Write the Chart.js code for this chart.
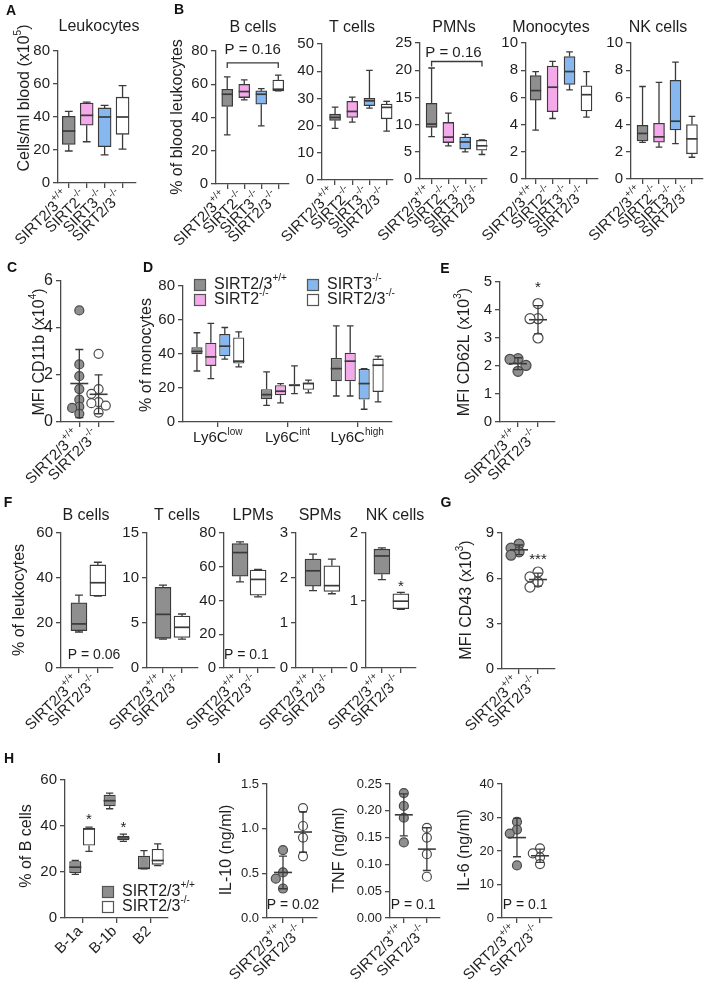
<!DOCTYPE html>
<html>
<head>
<meta charset="utf-8">
<title>SIRT2/3 immune cells</title>
<script src="https://cdn.jsdelivr.net/npm/chart.js@4.4.1/dist/chart.umd.min.js"></script>
<style>
  body { margin: 0; background: #fff; }
  #fig { position: relative; width: 708px; height: 988px; overflow: hidden; background: #fff; }
  #fig canvas { position: absolute; left: 0; top: 0; }
  .letter { position: absolute; transform: translate(-50%, -50%); font: bold 14px 'Liberation Sans', Arial, sans-serif; color: #111; }
</style>
</head>
<body>
<div id="fig"></div>
<script>
// categories
const genos4 = ['SIRT2/3^{+/+}', 'SIRT2^{-/-}', 'SIRT3^{-/-}', 'SIRT2/3^{-/-}'];
const genos2 = ['SIRT2/3^{+/+}', 'SIRT2/3^{-/-}'];
const ly6c = ['Ly6C^{low}', 'Ly6C^{int}', 'Ly6C^{high}'];
const bSubsets = ['B-1a', 'B-1b', 'B2'];
const colors4 = ['#8f8f8f', '#f4a9ea', '#86b7ef', '#ffffff'];
const colors2 = ['#8f8f8f', '#ffffff'];

// box plots, each entry is [min, q1, median, q3, max]
// A - blood leukocytes
const leukocytes = [[19.4, 23.4, 31.5, 40.4, 43.4], [25, 35, 41, 48.5, 49], [17, 22, 40, 45.5, 47], [20.5, 29.5, 40, 52, 59]];
// B - blood subsets
const bloodB = [[29.6, 46.6, 54, 57, 64.4], [50.6, 52, 55.6, 60, 62.6], [35, 48, 54, 56, 57.4], [56, 56, 57, 62.5, 65.5]];
const bloodT = [[19, 21.9, 23, 24.2, 26.8], [21.3, 23, 25.2, 28.9, 30.5], [26.4, 27.3, 29.1, 30, 40.3], [18, 22.5, 26.7, 27.9, 28.9]];
const bloodPMN = [[7.8, 9.5, 10.1, 13.9, 20.4], [6.1, 6.7, 7.7, 10.4, 12.1], [5.0, 5.5, 6.8, 7.7, 8.2], [4.5, 5.3, 6.1, 7.1, 7.2]];
const bloodMono = [[3.6, 5.8, 6.5, 7.6, 7.9], [4.45, 4.95, 6.75, 8.3, 8.65], [6.55, 6.95, 7.9, 9.0, 9.35], [4.55, 5.0, 6.2, 6.85, 7.9]];
const bloodNK = [[2.7, 2.8, 3.35, 3.95, 6.8], [2.35, 2.7, 3.1, 4.1, 7.1], [2.6, 3.6, 4.25, 7.25, 8.6], [1.6, 1.85, 2.95, 4.0, 4.6]];
// D - monocyte subsets (low, int, high) per genotype
const monoWT = [[30, 39.8, 41.5, 44, 52.5], [9.8, 13.4, 16.1, 19.3, 29.5], [15.3, 24, 31.4, 37.7, 56.6]];
const monoS2 = [[25.5, 33, 38.3, 46.6, 58], [11.2, 15.7, 18.1, 21.6, 22.6], [15.3, 24, 35.8, 40.7, 56.6]];
const monoS3 = [[37, 38.7, 44.6, 51.7, 55.6], [16.7, 21, 21.6, 22.2, 33], [7.5, 13.2, 22.6, 31.2, 31.4]];
const monoDKO = [[32.4, 34.4, 35.8, 49.7, 53], [17.1, 19, 22.6, 23.2, 24.6], [11.8, 17.7, 33.4, 37.3, 38.7]];
// F - peritoneal subsets
const periB = [[16, 16.6, 19.6, 29, 32.4], [32, 32, 37.9, 45.8, 47]];
const periT = [[3.2, 3.3, 5.96, 8.96, 9.2], [3.2, 3.4, 4.52, 5.78, 6.0]];
const periLPM = [[51, 54.4, 68.4, 73.7, 74.7], [42.2, 43.2, 52.5, 58, 58.4]];
const periSPM = [[1.72, 1.82, 2.16, 2.42, 2.53], [1.65, 1.7, 1.83, 2.27, 2.42]];
const periNK = [[1.31, 1.39, 1.66, 1.76, 1.78], [0.87, 0.88, 0.99, 1.10, 1.12]];
// H - B cell subsets per genotype
const bSubWT = [[19.0, 19.6, 22.1, 24.7, 25], [47.5, 48.6, 51, 53.6, 54.3], [21.4, 21.4, 21.6, 27.1, 29.3]];
const bSubDKO = [[29, 31.5, 38.7, 39.2, 39.5], [33.3, 33.8, 34.8, 35.8, 36.5], [22.8, 23.2, 25, 30, 32.2]];

// dot plots, single animals
const cd11bWT = [4.75, 2.45, 1.95, 1.4, 0.95, 0.65, 0.6, 0.35];
const cd11bDKO = [2.9, 1.4, 1.2, 0.85, 0.8, 0.7, 0.4];
const cd62lWT = [2.26, 2.24, 2.02, 1.81];
const cd62lDKO = [4.23, 3.69, 3.69, 3.0];
const cd43WT = [8.27, 8.0, 7.75, 7.53];
const cd43DKO = [6.42, 6.09, 5.75, 5.42];
const il10WT = [0.76, 0.51, 0.44, 0.33];
const il10DKO = [1.23, 1.03, 0.90, 0.69];
const tnfWT = [0.233, 0.209, 0.187, 0.141];
const tnfDKO = [0.168, 0.150, 0.119, 0.077];
const il6WT = [28.7, 26.4, 25.2, 15.7];
const il6DKO = [20.8, 19.3, 18.1, 16.1];

const FONT = "'Liberation Sans', Arial, Helvetica, sans-serif";
const INK = '#1e1e1e';
const AXIS = '#4a4a4a';
const LINE = '#3a3a3a';
const YW = 40; // room kept for the y tick labels
const fig = document.getElementById('fig');

// text with ^{...} superscripts
function rich(ctx, str, x, y, size, align, rot) {
  const parts = [];
  const re = /\^\{([^}]*)\}/g;
  let last = 0, m;
  while ((m = re.exec(str))) {
    if (m.index > last) parts.push({ t: str.slice(last, m.index), sup: false });
    parts.push({ t: m[1], sup: true });
    last = re.lastIndex;
  }
  if (last < str.length) parts.push({ t: str.slice(last), sup: false });
  ctx.save();
  ctx.translate(x, y);
  if (rot) ctx.rotate(rot * Math.PI / 180);
  ctx.fillStyle = INK;
  ctx.textBaseline = 'middle';
  ctx.textAlign = 'left';
  const font = sup => (sup ? Math.round(size * 0.64) : size) + 'px ' + FONT;
  let w = 0;
  parts.forEach(p => { ctx.font = font(p.sup); p.w = ctx.measureText(p.t).width; w += p.w; });
  let cx = align === 'right' ? -w : align === 'center' ? -w / 2 : 0;
  parts.forEach(p => {
    ctx.font = font(p.sup);
    ctx.fillText(p.t, cx, p.sup ? -size * 0.4 : 0);
    cx += p.w;
  });
  ctx.restore();
}

function deco(o) {
  return {
    id: 'deco',
    afterDatasetsDraw(chart) {
      const ctx = chart.ctx, xs = chart.scales.x, ys = chart.scales.y;
      const py = v => ys.getPixelForValue(v);
      ctx.save();
      ctx.strokeStyle = LINE;
      chart.data.datasets.forEach((ds, di) => {
        const meta = chart.getDatasetMeta(di);
        if (ds.box) {
          meta.data.forEach((el, i) => {
            const b = ds.box[i], x = el.x, w = el.width, cap = Math.min(8, w * 0.6);
            ctx.lineWidth = 1.3;
            ctx.beginPath();
            ctx.moveTo(x, py(b[3])); ctx.lineTo(x, py(b[4]));
            ctx.moveTo(x - cap / 2, py(b[4])); ctx.lineTo(x + cap / 2, py(b[4]));
            ctx.moveTo(x, py(b[1])); ctx.lineTo(x, py(b[0]));
            ctx.moveTo(x - cap / 2, py(b[0])); ctx.lineTo(x + cap / 2, py(b[0]));
            ctx.stroke();
            ctx.lineWidth = 1.7;
            ctx.beginPath();
            ctx.moveTo(x - w / 2, py(b[2])); ctx.lineTo(x + w / 2, py(b[2]));
            ctx.stroke();
          });
        }
        if (ds.vals) {
          // mean +/- SD
          const n = ds.vals.length;
          const mean = ds.vals.reduce((a, v) => a + v, 0) / n;
          const sd = Math.sqrt(ds.vals.reduce((a, v) => a + (v - mean) ** 2, 0) / (n - 1));
          const x = xs.getPixelForValue(ds.gi);
          ctx.lineWidth = 1.3;
          ctx.beginPath();
          ctx.moveTo(x, py(mean + sd)); ctx.lineTo(x, py(mean - sd));
          ctx.moveTo(x - 4, py(mean + sd)); ctx.lineTo(x + 4, py(mean + sd));
          ctx.moveTo(x - 4, py(mean - sd)); ctx.lineTo(x + 4, py(mean - sd));
          ctx.stroke();
          ctx.lineWidth = 1.6;
          ctx.beginPath();
          ctx.moveTo(x - 9, py(mean)); ctx.lineTo(x + 9, py(mean));
          ctx.stroke();
        }
      });
      ctx.restore();
    },
    afterDraw(chart) {
      const ctx = chart.ctx, xs = chart.scales.x, ys = chart.scales.y;
      if (o.title) rich(ctx, o.title, o.titleX, o.titleY, 16, 'center');
      if (o.yTitle) rich(ctx, o.yTitle, o.yTitleX, o.yTitleY, 16, 'center', -90);
      o.cats.forEach((c, i) => {
        const x = xs.getPixelForValue(i);
        if (o.flat) rich(ctx, c, x, xs.top + 16, 15, 'center');
        else rich(ctx, c, x - 2, xs.top + 11, 15, 'right', -45);
      });
      (o.notes || []).forEach(n => {
        const x = n.ds != null ? chart.getDatasetMeta(n.ds).data[n.i].x : xs.getPixelForValue(n.x);
        rich(ctx, n.t, x, ys.getPixelForValue(n.y), n.size || 15, 'center');
      });
      (o.brackets || []).forEach(b => {
        const x0 = xs.getPixelForValue(b.x0), x1 = xs.getPixelForValue(b.x1), y = ys.getPixelForValue(b.y);
        ctx.save();
        ctx.strokeStyle = LINE; ctx.lineWidth = 1.3;
        ctx.beginPath();
        ctx.moveTo(x0, y + 5); ctx.lineTo(x0, y); ctx.lineTo(x1, y); ctx.lineTo(x1, y + 5);
        ctx.stroke();
        ctx.restore();
      });
      if (o.legend) {
        const rows = o.legend.rows;
        o.series.forEach((s, k) => {
          const cx = o.legend.cols[Math.floor(k / rows.length)], cy = rows[k % rows.length];
          ctx.save();
          ctx.fillStyle = o.colors[k]; ctx.strokeStyle = '#555'; ctx.lineWidth = 1.2;
          ctx.fillRect(cx - 5.5, cy - 5.5, 11, 11);
          ctx.strokeRect(cx - 5.5, cy - 5.5, 11, 11);
          ctx.restore();
          rich(ctx, s, cx + 14, cy, 16, 'left');
        });
      }
    }
  };
}

function dotSet(vals, gi, fill, o) {
  // spread overlapping dots sideways, some overlap allowed
  const pxY = (o.bottom - o.top) / (o.yMax - o.yMin);
  const pxX = (o.right - o.ax) / (o.xMax - o.xMin);
  const r = o.r, placed = [];
  const data = vals.map(v => {
    const y = v * pxY;
    let dx = 0;
    for (const c of [0, -1, 1, -2, 2]) {
      const x = c * r * 1.6;
      if (placed.every(p => Math.hypot(p.x - x, p.y - y) >= r * 1.4)) { dx = x; break; }
    }
    placed.push({ x: dx, y });
    return { x: gi + dx / pxX, y: v };
  });
  return {
    data, vals, gi, pointRadius: r, pointHoverRadius: r,
    pointBackgroundColor: fill, pointBorderColor: '#4a4a4a', pointBorderWidth: 1.2, showLine: false
  };
}

function panel(o) {
  const cv = document.createElement('canvas');
  cv.width = 708; cv.height = 988;
  fig.appendChild(cv);

  let datasets;
  if (o.dots) {
    datasets = o.dots.map((vals, gi) => dotSet(vals, gi, o.colors[gi], o));
  } else if (o.groups) {
    datasets = o.groups.map((g, k) => ({
      label: o.series[k], box: g, data: g.map(b => [b[1], b[3]]),
      backgroundColor: o.colors[k], borderColor: LINE, borderWidth: 1.3, borderSkipped: false,
      categoryPercentage: 0.8, barPercentage: o.barPct
    }));
  } else {
    datasets = [{
      box: o.boxes, data: o.boxes.map((b, i) => ({ x: i, y: [b[1], b[3]] })),
      backgroundColor: o.colors, borderColor: LINE, borderWidth: 1.3, borderSkipped: false,
      barThickness: o.barW
    }];
  }

  const xScale = {
    ticks: { display: false },
    grid: { drawOnChartArea: false, tickLength: 5, color: AXIS, lineWidth: 1.3, offset: false },
    border: { color: AXIS, width: 1.3 },
    afterFit: s => { s.height = 10; }
  };
  if (o.groups) {
    Object.assign(xScale, { type: 'category', offset: true });
  } else {
    Object.assign(xScale, {
      type: 'linear', offset: false, min: o.xMin, max: o.xMax,
      afterBuildTicks: s => { s.ticks = o.cats.map((c, i) => ({ value: i })); }
    });
  }

  new Chart(cv, {
    type: o.dots ? 'scatter' : 'bar',
    data: { labels: o.groups ? o.cats : [], datasets },
    options: {
      responsive: false,
      animation: false,
      devicePixelRatio: 1,
      layout: { padding: { left: o.ax - YW, top: o.top, right: 708 - o.right, bottom: 988 - o.bottom - 10 } },
      plugins: { legend: { display: false }, tooltip: { enabled: false } },
      scales: {
        x: xScale,
        y: {
          type: 'linear', min: o.yMin, max: o.yMax,
          ticks: {
            stepSize: o.yStep, color: INK, padding: 3, autoSkip: false,
            font: { family: FONT, size: o.tickSize || 15 },
            callback: v => o.yDec ? v.toFixed(o.yDec) : v
          },
          grid: { drawOnChartArea: false, tickLength: 5, color: AXIS, lineWidth: 1.3 },
          border: { color: AXIS, width: 1.3 },
          afterFit: s => { s.width = YW; }
        }
      }
    },
    plugins: [deco(o)]
  });
}

// A
panel({ ax: 58, top: 51, right: 136, bottom: 183, yMin: 0, yMax: 80, yStep: 20, xMin: -0.6, xMax: 3.75,
  cats: genos4, boxes: leukocytes, colors: colors4, barW: 13,
  title: 'Leukocytes', titleX: 99, titleY: 27, yTitle: 'Cells/ml blood (x10^{5})', yTitleX: 25, yTitleY: 98 });

// B
panel({ ax: 216, top: 51, right: 289, bottom: 184, yMin: 0, yMax: 80, yStep: 20, xMin: -0.66, xMax: 3.63,
  cats: genos4, boxes: bloodB, colors: colors4, barW: 11,
  title: 'B cells', titleX: 253, titleY: 28, yTitle: '% of blood leukocytes', yTitleX: 178, yTitleY: 117,
  notes: [{ t: 'P = 0.16', x: 1.5, y: 80.6 }], brackets: [{ x0: 0, x1: 3, y: 72.8 }] });
panel({ ax: 322, top: 44, right: 393, bottom: 180, yMin: 0, yMax: 50, yStep: 10, xMin: -0.76, xMax: 3.37,
  cats: genos4, boxes: bloodT, colors: colors4, barW: 11, title: 'T cells', titleX: 352, titleY: 28 });
panel({ ax: 420, top: 43, right: 487, bottom: 179, yMin: 0, yMax: 25, yStep: 5, xMin: -0.69, xMax: 3.3,
  cats: genos4, boxes: bloodPMN, colors: colors4, barW: 11, title: 'PMNs', titleX: 454, titleY: 28,
  notes: [{ t: 'P = 0.16', x: 1.3, y: 23.1 }], brackets: [{ x0: 0, x1: 3, y: 21.6 }] });
panel({ ax: 526, top: 43, right: 598, bottom: 179, yMin: 0, yMax: 10, yStep: 2, xMin: -0.57, xMax: 3.68,
  cats: genos4, boxes: bloodMono, colors: colors4, barW: 11, title: 'Monocytes', titleX: 551, titleY: 28 });
panel({ ax: 631, top: 43, right: 703, bottom: 179, yMin: 0, yMax: 10, yStep: 2, xMin: -0.7, xMax: 3.67,
  cats: genos4, boxes: bloodNK, colors: colors4, barW: 11, title: 'NK cells', titleX: 658, titleY: 28 });

// C
panel({ ax: 61, top: 281, right: 114, bottom: 422, yMin: 0, yMax: 6, yStep: 2, xMin: -0.95, xMax: 1.8,
  cats: genos2, dots: [cd11bWT, cd11bDKO], colors: colors2, r: 4.5, tickSize: 16,
  yTitle: 'MFI CD11b (x10^{4})', yTitleX: 40, yTitleY: 352 });

// D
panel({ ax: 183, top: 286, right: 392, bottom: 422, yMin: 0, yMax: 80, yStep: 20,
  cats: ly6c, flat: true, groups: [monoWT, monoS2, monoS3, monoDKO], series: genos4, colors: colors4, barPct: 0.8,
  yTitle: '% of monocytes', yTitleX: 147, yTitleY: 355, legend: { cols: [200, 313], rows: [285, 300] } });

// E
panel({ ax: 500, top: 282, right: 555, bottom: 422, yMin: 0, yMax: 5, yStep: 1, xMin: -0.9, xMax: 1.85,
  cats: genos2, dots: [cd62lWT, cd62lDKO], colors: colors2, r: 5,
  yTitle: 'MFI CD62L (x10^{3})', yTitleX: 465, yTitleY: 352, notes: [{ t: '*', x: 1, y: 4.79 }] });

// F
panel({ ax: 61, top: 533, right: 113, bottom: 668, yMin: 0, yMax: 60, yStep: 20, xMin: -0.95, xMax: 1.8,
  cats: genos2, boxes: periB, colors: colors2, barW: 16, title: 'B cells', titleX: 86, titleY: 516,
  yTitle: '% of leukocytes', yTitleX: 20, yTitleY: 600, notes: [{ t: 'P = 0.06', x: 0.8, y: 5.8, size: 14 }] });
panel({ ax: 147, top: 533, right: 198, bottom: 668, yMin: 0, yMax: 15, yStep: 5, xMin: -0.84, xMax: 1.84,
  cats: genos2, boxes: periT, colors: colors2, barW: 16, title: 'T cells', titleX: 177, titleY: 516 });
panel({ ax: 224, top: 533, right: 275, bottom: 668, yMin: 0, yMax: 80, yStep: 20, xMin: -0.89, xMax: 1.94,
  cats: genos2, boxes: periLPM, colors: colors2, barW: 16, title: 'LPMs', titleX: 253, titleY: 516,
  notes: [{ t: 'P = 0.1', x: 0.35, y: 7.7, size: 14 }] });
panel({ ax: 296, top: 533, right: 347, bottom: 668, yMin: 0, yMax: 3, yStep: 1, xMin: -0.9, xMax: 1.8,
  cats: genos2, boxes: periSPM, colors: colors2, barW: 16, title: 'SPMs', titleX: 320, titleY: 516 });
panel({ ax: 366, top: 533, right: 416, bottom: 668, yMin: 0, yMax: 2, yStep: 1, xMin: -0.84, xMax: 1.8,
  cats: genos2, boxes: periNK, colors: colors2, barW: 16, title: 'NK cells', titleX: 395, titleY: 516,
  notes: [{ t: '*', x: 1, y: 1.2 }] });

// G
panel({ ax: 502, top: 533, right: 555, bottom: 669, yMin: 0, yMax: 9, yStep: 3, xMin: -0.9, xMax: 1.9,
  cats: genos2, dots: [cd43WT, cd43DKO], colors: colors2, r: 5,
  yTitle: 'MFI CD43 (x10^{3})', yTitleX: 467, yTitleY: 600, notes: [{ t: '***', x: 1, y: 7.2 }] });

// H
panel({ ax: 65, top: 780, right: 168, bottom: 918, yMin: 0, yMax: 60, yStep: 20,
  cats: bSubsets, groups: [bSubWT, bSubDKO], series: genos2, colors: colors2, barPct: 0.88,
  yTitle: '% of B cells', yTitleX: 27, yTitleY: 846, legend: { cols: [108], rows: [892, 907] },
  notes: [{ t: '*', ds: 1, i: 0, y: 42.6 }, { t: '*', ds: 1, i: 1, y: 39.1 }] });

// I
panel({ ax: 267, top: 784, right: 317, bottom: 918, yMin: 0, yMax: 1.5, yStep: 0.5, yDec: 1, tickSize: 13,
  xMin: -0.8, xMax: 1.7, cats: genos2, dots: [il10WT, il10DKO], colors: colors2, r: 4.5,
  yTitle: 'IL-10 (ng/ml)', yTitleX: 227, yTitleY: 850, notes: [{ t: 'P = 0.02', x: 0.5, y: 0.146, size: 14 }] });
panel({ ax: 390, top: 784, right: 440, bottom: 918, yMin: 0, yMax: 0.25, yStep: 0.05, yDec: 2, tickSize: 13,
  xMin: -0.6, xMax: 1.57, cats: genos2, dots: [tnfWT, tnfDKO], colors: colors2, r: 4.5,
  yTitle: 'TNF (ng/ml)', yTitleX: 340, yTitleY: 850, notes: [{ t: 'P = 0.1', x: 0.4, y: 0.0243, size: 14 }] });
panel({ ax: 502, top: 784, right: 552, bottom: 918, yMin: 0, yMax: 40, yStep: 10, tickSize: 13,
  xMin: -0.65, xMax: 1.52, cats: genos2, dots: [il6WT, il6DKO], colors: colors2, r: 4.5,
  yTitle: 'IL-6 (ng/ml)', yTitleX: 465, yTitleY: 850, notes: [{ t: 'P = 0.1', x: 0.35, y: 3.9, size: 14 }] });

// panel letters
[['A', 11, 10], ['B', 179, 9], ['C', 12, 267], ['D', 148, 267], ['E', 445, 268],
 ['F', 8, 502], ['G', 446, 502], ['H', 9, 758], ['I', 219, 758]].forEach(([t, x, y]) => {
  const d = document.createElement('div');
  d.className = 'letter';
  d.textContent = t;
  d.style.left = x + 'px';
  d.style.top = y + 'px';
  fig.appendChild(d);
});
</script>
</body>
</html>
